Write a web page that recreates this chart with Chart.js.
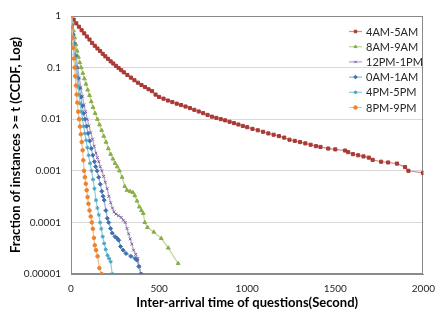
<!DOCTYPE html>
<html lang="en">
<head>
<meta charset="UTF-8">
<title>Inter-arrival time CCDF</title>
<script src="https://cdn.jsdelivr.net/npm/chart.js"></script>
<style>
    body { margin: 0; background: #fff; }
    #chart { display: block; }
</style>
</head>
<body>
<canvas id="chart" width="444" height="314"></canvas>
<script>
// series labels (legend order)
const seriesLabels = ["4AM-5AM", "8AM-9AM", "12PM-1PM", "0AM-1AM", "4PM-5PM", "8PM-9PM"];

// 4AM-5AM
const redX = [0, 15, 30, 45, 60, 75, 90, 105, 120, 135, 150, 165, 180, 195, 210, 225, 240, 255, 270, 285,
    300, 320, 340, 360, 380, 400, 420, 440, 460, 480, 500, 525, 550, 575, 600, 625, 650, 675, 700, 725,
    750, 775, 800, 825, 850, 875, 900, 925, 950, 975, 1000, 1030, 1060, 1090, 1120, 1150, 1180, 1210, 1240, 1270,
    1300, 1330, 1360, 1390, 1416, 1460, 1500, 1555, 1573, 1600, 1630, 1660, 1690, 1712, 1760, 1800, 1850, 1896, 1915, 1998];
const redY = [1, 0.85, 0.72, 0.62, 0.53, 0.46, 0.40, 0.35, 0.30, 0.265, 0.235, 0.21, 0.185, 0.165, 0.148, 0.132, 0.12, 0.108, 0.098, 0.089,
    0.081, 0.072, 0.064, 0.057, 0.051, 0.046, 0.042, 0.038, 0.035, 0.030, 0.027, 0.025, 0.023, 0.0215, 0.020, 0.0188, 0.0176, 0.0164, 0.0152, 0.0141,
    0.0131, 0.0121, 0.0112, 0.0106, 0.0100, 0.0095, 0.0089, 0.0084, 0.0079, 0.0074, 0.0070, 0.0065, 0.0061, 0.0057, 0.0053, 0.0050, 0.0047, 0.0044, 0.0040, 0.0038,
    0.0036, 0.0034, 0.0032, 0.0030, 0.0029, 0.0027, 0.0026, 0.00247, 0.0023, 0.0021, 0.0020, 0.0019, 0.0018, 0.00163, 0.0015, 0.00145, 0.00138, 0.00118, 0.0010, 0.00091];

// 8AM-9AM
const greenX = [0, 7, 14, 21, 28, 35, 42, 50, 58, 67, 76, 85, 95, 105, 115, 125, 137, 150, 162, 174,
    186, 199, 212, 225, 238, 250, 262, 275, 290, 305, 318, 335, 351, 362, 375, 388, 400, 410, 419, 434,
    470, 512, 552, 608];
const greenY = [1, 0.72, 0.52, 0.38, 0.28, 0.21, 0.16, 0.125, 0.10, 0.078, 0.061, 0.048, 0.037, 0.029, 0.022, 0.017, 0.013, 0.010, 0.0078, 0.0061,
    0.0047, 0.0036, 0.0027, 0.0021, 0.0017, 0.0014, 0.0012, 0.0010, 0.00075, 0.00050, 0.00042, 0.00040, 0.00038, 0.00033, 0.00026, 0.00020, 0.00017, 0.00015, 0.0001, 0.00008,
    0.000065, 0.000049, 0.000032, 0.000016];

// 12PM-1PM
const purpleX = [0, 7, 14, 21, 29, 38, 47, 56, 65, 74, 83, 92, 102, 112, 122, 132, 142, 150, 158, 166,
    175, 185, 195, 205, 215, 225, 235, 244, 255, 270, 285, 297, 308, 318, 327, 336, 345, 355, 367, 379,
    388, 397];
const purpleY = [1, 0.66, 0.44, 0.29, 0.17, 0.10, 0.063, 0.041, 0.028, 0.019, 0.014, 0.010, 0.0074, 0.0055, 0.0041, 0.0030, 0.0022, 0.0018, 0.0015, 0.0012,
    0.0010, 0.00078, 0.00060, 0.00045, 0.00032, 0.00024, 0.00019, 0.00016, 0.000145, 0.000135, 0.000125, 0.00011, 0.0001, 0.000076, 0.000060, 0.000048, 0.000038, 0.000029, 0.000024, 0.00002,
    0.000014, 0.00001];

// 0AM-1AM
const blueX = [0, 6, 12, 18, 25, 32, 40, 48, 56, 64, 71, 79, 88, 97, 106, 115, 124, 133, 140, 148,
    157, 166, 175, 182, 188, 198, 206, 214, 225, 234, 250, 262, 271, 281, 296, 312, 340, 364, 373, 385, 397];
const blueY = [1, 0.67, 0.44, 0.29, 0.17, 0.10, 0.062, 0.040, 0.027, 0.018, 0.013, 0.010, 0.0073, 0.0053, 0.0038, 0.0027, 0.0020, 0.0015, 0.0012, 0.0010,
    0.00075, 0.00055, 0.00040, 0.00032, 0.00027, 0.00017, 0.00012, 0.0001, 0.000076, 0.000062, 0.000053, 0.000049, 0.000045, 0.000034, 0.000029, 0.000025, 0.000022, 0.00002, 0.0000186, 0.000014, 0.00001];

// 4PM-5PM
const cyanX = [0, 5, 10, 15, 20, 27, 33, 39, 45, 52, 58, 65, 72, 79, 86, 93, 100, 108, 117, 125,
    133, 142, 150, 158, 165, 172, 180, 188, 197, 207, 216, 225, 234];
const cyanY = [1, 0.65, 0.43, 0.28, 0.18, 0.10, 0.066, 0.044, 0.030, 0.020, 0.014, 0.010, 0.0073, 0.0053, 0.0039, 0.0028, 0.0020, 0.0014, 0.0010, 0.00068,
    0.00045, 0.00027, 0.00019, 0.00014, 0.0001, 0.000075, 0.000053, 0.000039, 0.00003, 0.000023, 0.00002, 0.0000173, 0.00001];

// 8PM-9PM
const orangeX = [0, 4, 8, 12, 16, 20, 24, 28, 32, 36, 41, 46, 51, 56, 61, 66, 70, 74, 79, 84,
    89, 94, 99, 105, 112, 118, 124, 130, 135, 142, 151, 161, 174];
const orangeY = [1, 0.6, 0.38, 0.24, 0.15, 0.10, 0.068, 0.045, 0.030, 0.021, 0.014, 0.010, 0.0072, 0.0051, 0.0036, 0.0025, 0.0016, 0.0010, 0.00075, 0.00056,
    0.00042, 0.00031, 0.00023, 0.00017, 0.00013, 0.0001, 0.000075, 0.00005, 0.000036, 0.000029, 0.000022, 0.000013, 0.00001];

// axis ticks
const xTickLabels = ["0", "500", "1000", "1500", "2000"];
const yTicks = [1, 0.1, 0.01, 0.001, 0.0001, 0.00001];
const yTickLabels = ["1", "0.1", "0.01", "0.001", "0.0001", "0.00001"];

const seriesX = [redX, greenX, purpleX, blueX, cyanX, orangeX];
const seriesY = [redY, greenY, purpleY, blueY, cyanY, orangeY];
const markerColors = ["#A93A36", "#8AAE47", "#7D60A0", "#3F6FAE", "#3FA4C3", "#EC842F"];
const lineColors = ["#D48E8B", "#BFD495", "#B3A2C7", "#93B1D6", "#90CBDC", "#F8BD8C"];
const pointStyles = ["rect", "triangle", "crossRot", "rectRot", "star", "circle"];
const pointSizes = [2.2, 2.2, 2, 2, 2, 1.8];

const FONT = "Lato, 'Open Sans', sans-serif";

const datasets = seriesLabels.map((label, i) => ({
    label: label,
    data: seriesX[i].map((x, j) => ({ x: x, y: seriesY[i][j] })),
    borderColor: lineColors[i],
    borderWidth: 1.2,
    pointStyle: pointStyles[i],
    pointRadius: pointSizes[i],
    pointBackgroundColor: markerColors[i],
    pointBorderColor: markerColors[i],
    pointBorderWidth: 1,
    tension: 0,
    order: seriesLabels.length - 1 - i
}));

// frame around plot + legend inside the plot area
const framePlugin = {
    id: "frame",
    beforeDatasetsDraw(chart) {
        const a = chart.chartArea;
        const ctx = chart.ctx;
        ctx.save();
        ctx.strokeStyle = "#8a8a8a";
        ctx.lineWidth = 1;
        ctx.strokeRect(Math.round(a.left) + 0.5, Math.round(a.top) + 0.5,
            Math.round(a.right - a.left) - 1, Math.round(a.bottom - a.top) - 1);
        ctx.restore();
    },
    afterDraw(chart) {
        const ctx = chart.ctx;
        ctx.save();
        chart.data.datasets.forEach((ds, i) => {
            const y = 31.5 + i * 15.2;
            ctx.strokeStyle = lineColors[i];
            ctx.lineWidth = 1.2;
            ctx.beginPath();
            ctx.moveTo(349, y);
            ctx.lineTo(362, y);
            ctx.stroke();
            ctx.fillStyle = markerColors[i];
            ctx.strokeStyle = markerColors[i];
            ctx.lineWidth = 1;
            if (Chart.helpers && Chart.helpers.drawPoint) {
                Chart.helpers.drawPoint(ctx, { pointStyle: pointStyles[i], radius: 1.8, rotation: 0, borderWidth: 1 }, 355.5, y);
            }
            ctx.fillStyle = "#262626";
            ctx.font = "11px " + FONT;
            ctx.textAlign = "left";
            ctx.textBaseline = "middle";
            ctx.fillText(ds.label, 366, y + 0.5);
        });
        ctx.restore();
    }
};

new Chart(document.getElementById("chart").getContext("2d"), {
    type: "line",
    data: { datasets: datasets },
    plugins: [framePlugin],
    options: {
        responsive: false,
        animation: false,
        devicePixelRatio: 1,
        layout: { padding: { top: 15, right: 12, bottom: 0, left: 0 } },
        plugins: {
            legend: { display: false },
            tooltip: { enabled: false }
        },
        scales: {
            x: {
                type: "linear",
                min: 0,
                max: 2000,
                ticks: {
                    stepSize: 500,
                    padding: 9,
                    color: "#262626",
                    font: { family: FONT, size: 10 },
                    maxRotation: 0,
                    callback: (v) => xTickLabels[Math.round(v / 500)]
                },
                grid: { display: false, drawTicks: false },
                border: { display: true, color: "#8a8a8a" },
                title: {
                    display: true,
                    text: "Inter-arrival time of questions(Second)",
                    color: "#000",
                    font: { family: FONT, size: 13, weight: "bold" },
                    padding: { top: 0, bottom: 3 }
                },
                afterFit: (scale) => { scale.height = 40; }
            },
            y: {
                type: "logarithmic",
                min: 0.00001,
                max: 1,
                afterBuildTicks: (scale) => { scale.ticks = yTicks.map(v => ({ value: v })); },
                ticks: {
                    padding: 10,
                    color: "#262626",
                    font: { family: FONT, size: 10 },
                    callback: (v, idx) => yTickLabels[idx]
                },
                grid: { color: "#d9d9d9", lineWidth: 1, drawTicks: false },
                border: { display: true, color: "#8a8a8a" },
                title: {
                    display: true,
                    text: "Fraction of instances >= t (CCDF, Log)",
                    color: "#000",
                    font: { family: FONT, size: 13, weight: "bold" },
                    padding: { top: 8, bottom: 0 }
                },
                afterFit: (scale) => { scale.width = 71; }
            }
        }
    }
});
</script>
</body>
</html>
